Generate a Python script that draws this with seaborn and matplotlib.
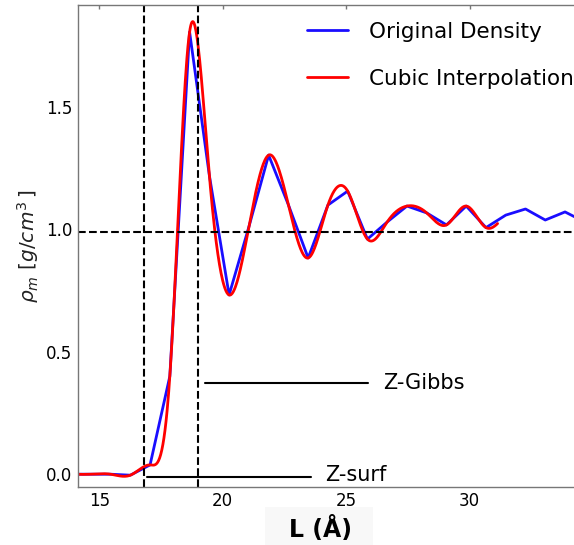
import numpy as np
import pandas as pd
import matplotlib
matplotlib.use("Agg")
import matplotlib.pyplot as plt
from matplotlib.patches import Rectangle
import seaborn as sns

# Density profile sampled along the slab normal (Angstrom, g/cm^3)
L_grid = [13.86, 14.66, 15.46, 16.26, 17.06, 17.86, 18.66, 19.46, 20.26,
          21.06, 21.86, 22.66, 23.46, 24.26, 25.06, 25.86, 26.66, 27.46,
          28.26, 29.06, 29.86, 30.66, 31.46, 32.26, 33.06, 33.86, 34.66]
rho_original = [0.0, 0.0, 0.0, -0.004, 0.038, 0.40, 1.806, 1.22, 0.732,
                1.01, 1.303, 1.10, 0.883, 1.099, 1.156, 0.960, 1.03, 1.095,
                1.067, 1.018, 1.095, 1.007, 1.058, 1.083, 1.038, 1.071, 1.03]

# Range over which the cubic interpolant is evaluated
interp_end = 31.13

# Reference positions
z_surf = 16.81
z_gibbs = 19.0
rho_bulk = 0.99


def natural_cubic(x, y, xs):
    x = np.asarray(x, float)
    y = np.asarray(y, float)
    n = len(x)
    h = np.diff(x)
    A = np.zeros((n, n))
    r = np.zeros(n)
    A[0, 0] = 1.0
    A[-1, -1] = 1.0
    for i in range(1, n - 1):
        A[i, i - 1] = h[i - 1]
        A[i, i] = 2 * (h[i - 1] + h[i])
        A[i, i + 1] = h[i]
        r[i] = 3 * ((y[i + 1] - y[i]) / h[i] - (y[i] - y[i - 1]) / h[i - 1])
    c = np.linalg.solve(A, r)
    b = (y[1:] - y[:-1]) / h - h * (2 * c[:-1] + c[1:]) / 3
    d = (c[1:] - c[:-1]) / (3 * h)
    idx = np.clip(np.searchsorted(x, xs) - 1, 0, n - 2)
    dx = xs - x[idx]
    return y[idx] + b[idx] * dx + c[idx] * dx ** 2 + d[idx] * dx ** 3


orig = pd.DataFrame({"L": L_grid, "rho": rho_original})
L_fine = np.linspace(L_grid[0], interp_end, 800)
cubic = pd.DataFrame({"L": L_fine, "rho": natural_cubic(L_grid, rho_original, L_fine)})

sns.set_style("white")
plt.rcParams["font.family"] = ["DejaVu Sans"]
plt.rcParams["mathtext.fontset"] = "dejavusans"
for key in ["text.color", "axes.labelcolor", "xtick.labelcolor", "ytick.labelcolor"]:
    plt.rcParams[key] = "black"

W, H = 574, 545
fig = plt.figure(figsize=(W / 100, H / 100), dpi=100)
ax_left, ax_right, ax_top, ax_bottom = 77.7, 580.0, 5.0, 486.7
ax = fig.add_axes([ax_left / W, 1 - ax_bottom / H,
                   (ax_right - ax_left) / W, (ax_bottom - ax_top) / H])

sns.lineplot(data=orig, x="L", y="rho", ax=ax, color=(0.1, 0.05, 1.0),
             lw=2, sort=False, label="Original Density")
sns.lineplot(data=cubic, x="L", y="rho", ax=ax, color=(1.0, 0.0, 0.0),
             lw=2, sort=False, label="Cubic Interpolation")

ax.axvline(z_surf, color="black", ls="--", lw=1.5)
ax.axvline(z_gibbs, color="black", ls="--", lw=1.5)
ax.axhline(rho_bulk, color="black", ls="--", lw=1.5)

# Labelled markers for the surface and Gibbs dividing positions
ax.plot([16.95, 23.57], [-0.01, -0.01], color="black", lw=1.5)
ax.text(24.14, -0.005, "Z-surf", fontsize=15, va="center", ha="left")
ax.plot([19.28, 25.88], [0.374, 0.374], color="black", lw=1.5)
ax.text(26.48, 0.374, "Z-Gibbs", fontsize=15, va="center", ha="left")

ax.set_xlim(14.13, 14.13 + (ax_right - ax_left) / 24.7)
ax.set_ylim(-0.051, 1.916)
ax.set_xticks([15, 20, 25, 30])
ax.set_yticks([0.0, 0.5, 1.0, 1.5])
ax.set_yticklabels(["0.0", "0.5", "1.0", "1.5"])
ax.tick_params(direction="in", length=3, width=1, color="#777777",
               labelsize=12, pad=4, top=True, right=True, labelcolor="black")
for s in ax.spines.values():
    s.set_color("#777777")
    s.set_linewidth(1.0)

ax.set_ylabel(r"$\rho_m\ [g/cm^3\,]$", fontsize=14.5, color="#222222")
ax.yaxis.set_label_coords(-0.074, 0.5)

ax.set_xlabel("L (Å)", fontsize=17, fontweight="bold", color="black")
ax.xaxis.set_label_coords((320 - ax_left) / (ax_right - ax_left),
                          -(529 - ax_bottom) / (ax_bottom - ax_top))
ax.xaxis.label.set_va("center")
fig.patches.append(Rectangle((265 / W, 0), 108 / W, 38 / H,
                             transform=fig.transFigure, facecolor="#f8f8f8",
                             edgecolor="none", zorder=-1))

ax.legend(loc="upper left", bbox_to_anchor=(307 / W, 1 - 22 / H),
          bbox_transform=fig.transFigure, frameon=False, fontsize=15.5,
          borderpad=0, borderaxespad=0, handlelength=1.9,
          handletextpad=1.0, labelspacing=1.25)

fig.savefig("out.png", dpi=100)
